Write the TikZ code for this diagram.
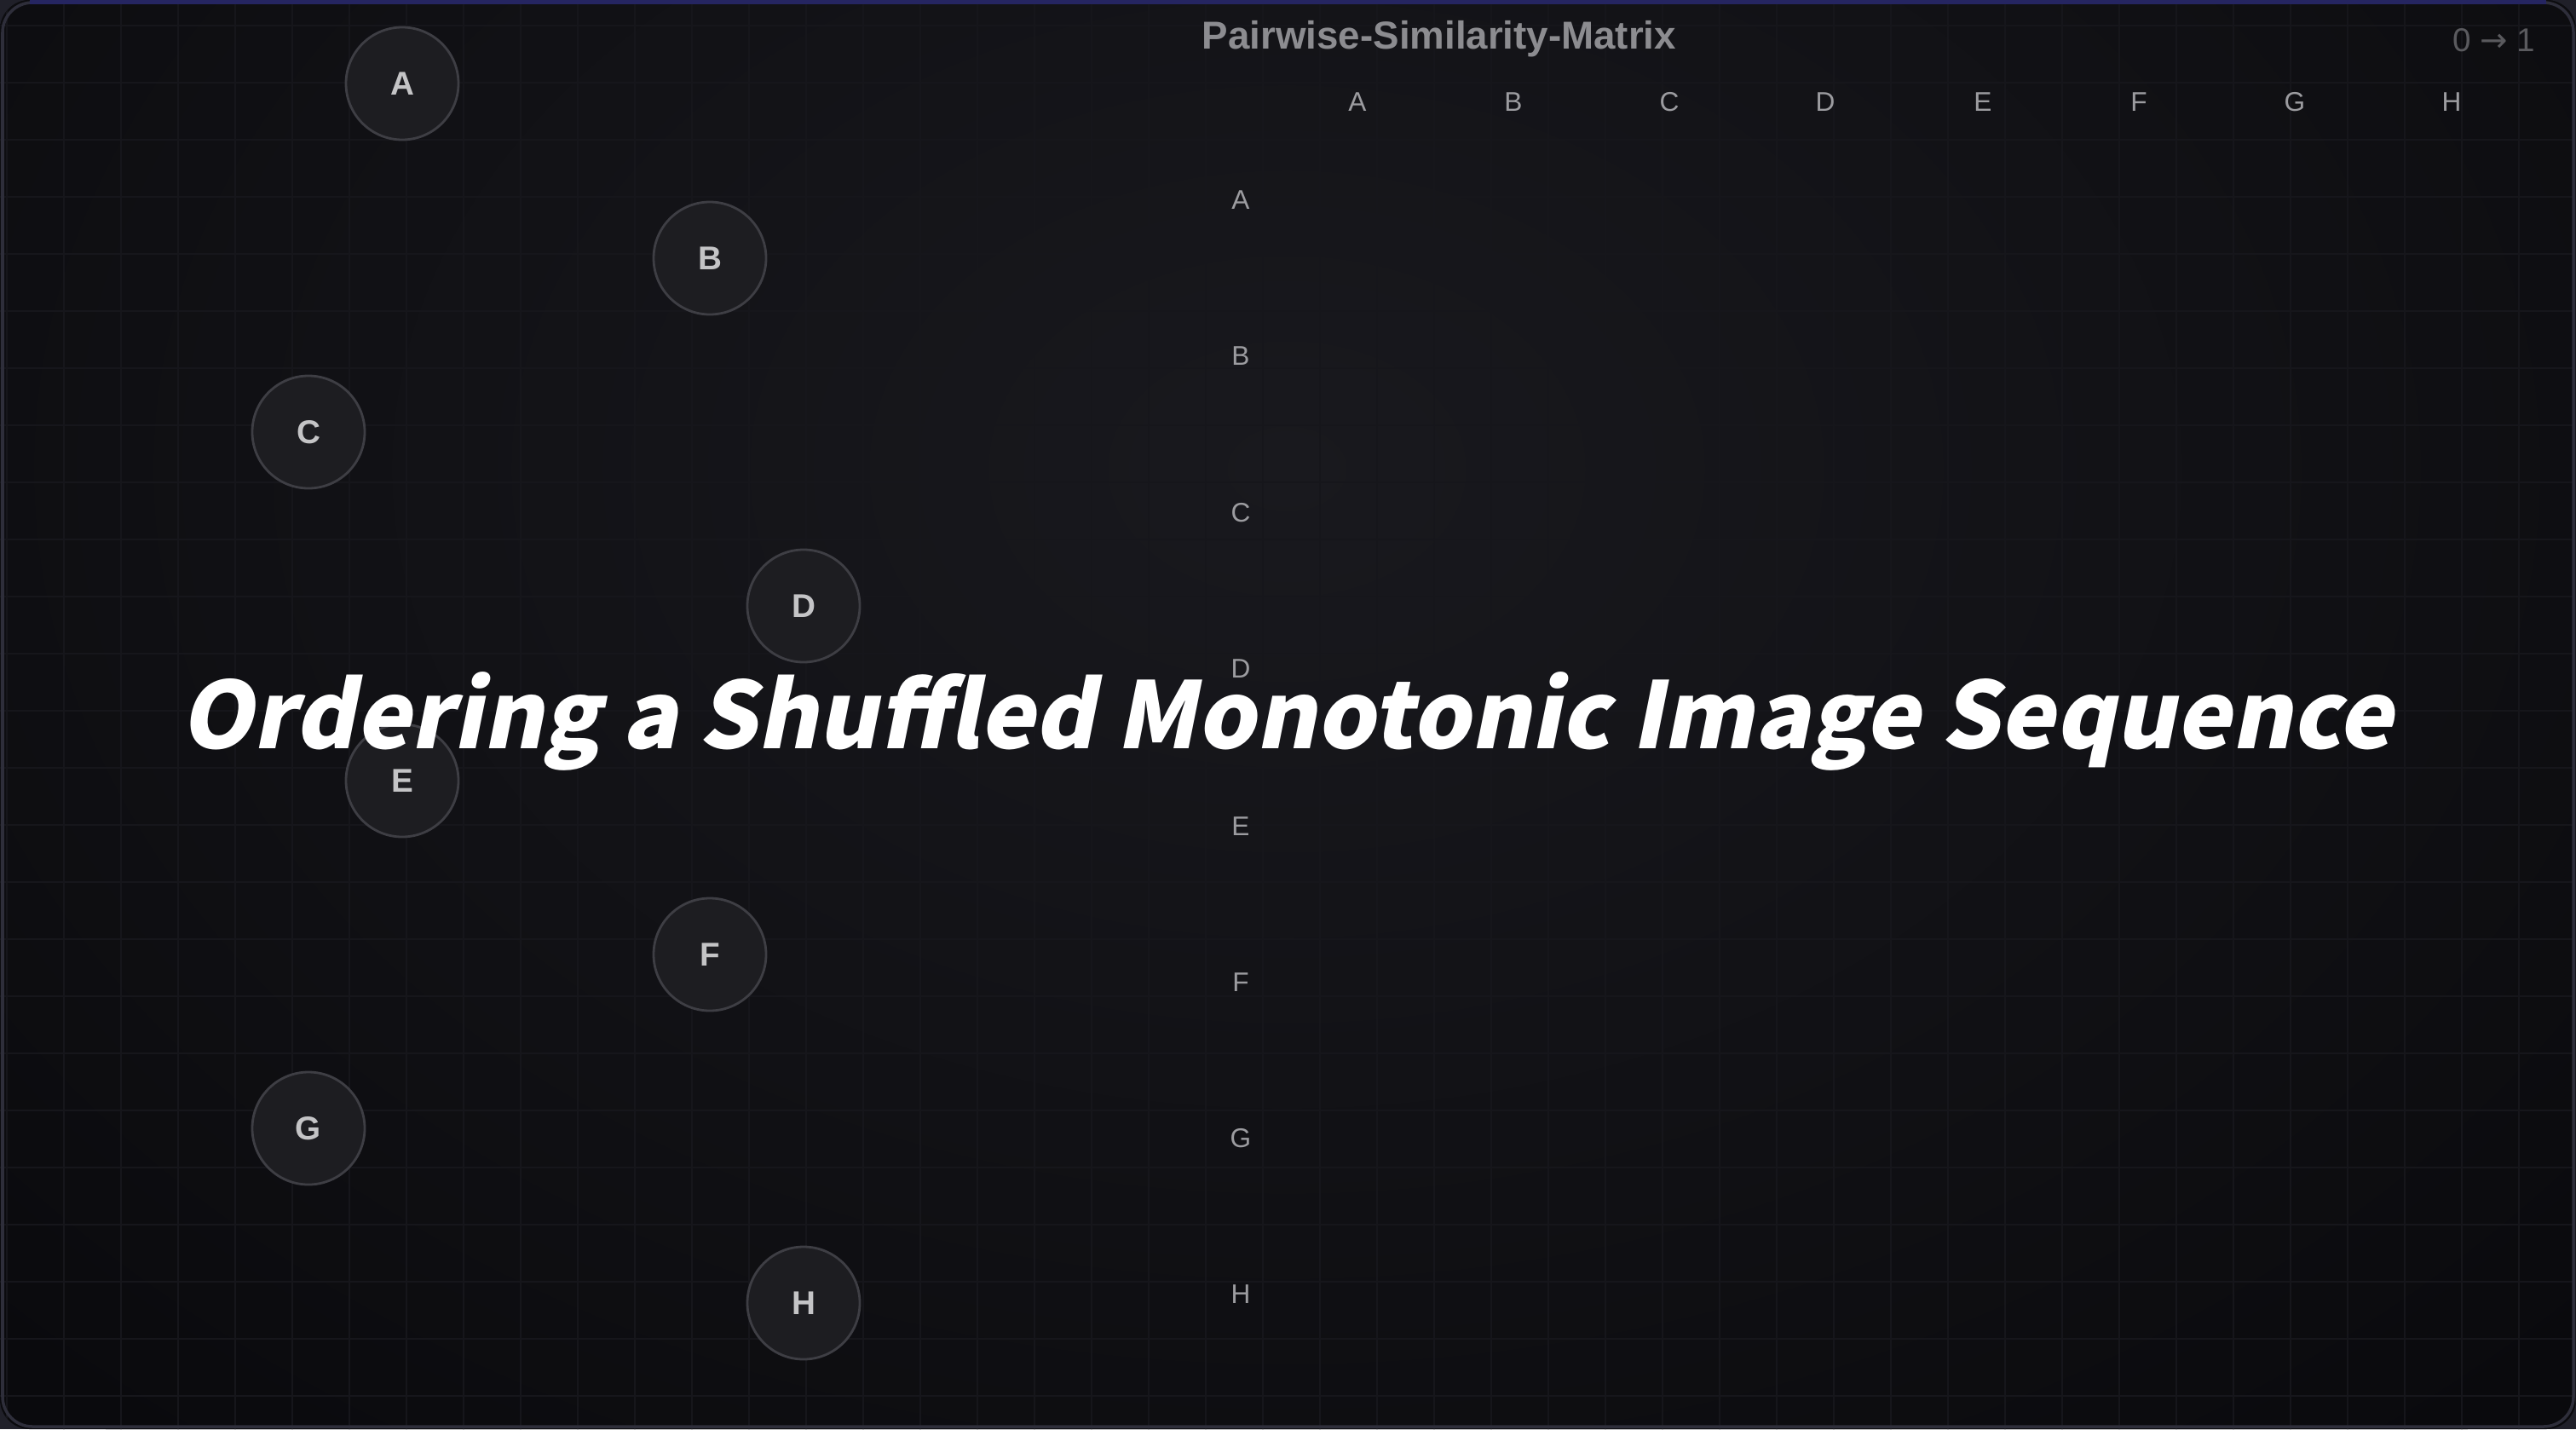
\documentclass[tikz,border=0pt]{standalone}
\usepackage{fontspec}
\setmainfont{Liberation Sans}
\newfontfamily\titlefont[FakeSlant=0.2]{Noto Sans CJK SC}
\newfontfamily\symfont{DejaVu Sans}
\usepackage{tikz}
\usetikzlibrary{positioning}
\definecolor{simbg}{HTML}{0A0A0D}
\definecolor{simglow}{HTML}{19191E}
\definecolor{simedge}{HTML}{2E2E3A}
\definecolor{simgrid}{HTML}{16161B}
\definecolor{simdot}{HTML}{1D1D21}
\definecolor{simring}{HTML}{3E3E44}
\definecolor{simlabel}{HTML}{C4C4C6}
\definecolor{simaxis}{HTML}{9C9CA0}
\definecolor{simhead}{HTML}{8C8C90}
\definecolor{simscale}{HTML}{5A5A5E}

\begin{document}
\begin{tikzpicture}[
  item/.style={circle, draw=simring, line width=0.8pt, fill=simdot,
    minimum size=1.32cm, inner sep=0pt, text=simlabel,
    font=\fontsize{11}{13}\selectfont\bfseries},
  axislabel/.style={text=simaxis, inner sep=0pt, font=\fontsize{9}{11}\selectfont},
  heading/.style={text=simhead, inner sep=0pt, font=\fontsize{13}{15}\selectfont\bfseries}
]
  \useasboundingbox (0,0) rectangle (30.23,-16.77);

  % --- Window background ---
  \fill[simedge!70!black] (0,0) rectangle (30.23,-16.77);
  \fill[simbg, rounded corners=0.35cm] (0,0) rectangle (30.23,-16.77);
  \begin{scope}
    \clip[rounded corners=0.35cm] (0,0) rectangle (30.23,-16.77);
    \shade[inner color=simglow, outer color=simbg] (15.1,-5.5) ellipse (21 and 15);
    \draw[simgrid, line width=0.35pt, shift={(0.08,-0.3)}] (-1,1) grid[step=0.67] (31,-17.5);
  \end{scope}
  \draw[simedge, line width=1pt, rounded corners=0.35cm] (0.03,-0.03) rectangle (30.2,-16.74);
  \draw[simedge!80!blue, line width=1.5pt] (0.35,-0.02) -- (29.88,-0.02);

  % --- Shuffled images (left) ---
  \node[item] (imgA) at (4.72,-0.98)  {A};
  \node[item] (imgB) at (8.33,-3.03)  {B};
  \node[item] (imgC) at (3.62,-5.07)  {C};
  \node[item] (imgD) at (9.43,-7.11)  {D};
  \node[item] (imgE) at (4.72,-9.16)  {E};
  \node[item] (imgF) at (8.33,-11.20) {F};
  \node[item] (imgG) at (3.62,-13.24) {G};
  \node[item] (imgH) at (9.43,-15.29) {H};

  % --- Matrix header ---
  \node[heading] (mtitle) at (16.89,-0.46) {Pairwise-Similarity-Matrix};
  \node[text=simscale, inner sep=0pt, font=\fontsize{11}{13}\selectfont]
    (scale) at (29.27,-0.47) {0 {\symfont →} 1};

  % --- Column labels ---
  \node[axislabel] (colA) at (15.93,-1.20) {A};
  \node[axislabel] (colB) at (17.76,-1.20) {B};
  \node[axislabel] (colC) at (19.59,-1.20) {C};
  \node[axislabel] (colD) at (21.42,-1.20) {D};
  \node[axislabel] (colE) at (23.27,-1.20) {E};
  \node[axislabel] (colF) at (25.10,-1.20) {F};
  \node[axislabel] (colG) at (26.93,-1.20) {G};
  \node[axislabel] (colH) at (28.77,-1.20) {H};

  % --- Row labels ---
  \node[axislabel] (rowA) at (14.56,-2.35)  {A};
  \node[axislabel] (rowB) at (14.56,-4.18)  {B};
  \node[axislabel] (rowC) at (14.56,-6.02)  {C};
  \node[axislabel] (rowD) at (14.56,-7.85)  {D};
  \node[axislabel] (rowE) at (14.56,-9.70)  {E};
  \node[axislabel] (rowF) at (14.56,-11.53) {F};
  \node[axislabel] (rowG) at (14.56,-13.36) {G};
  \node[axislabel] (rowH) at (14.56,-15.19) {H};

  % --- Overlay caption ---
  \node[text=white, inner sep=0pt, font=\titlefont\bfseries\fontsize{30.8}{35}\selectfont]
    (caption) at (15.10,-8.46) {Ordering a Shuffled Monotonic Image Sequence};
\end{tikzpicture}
\end{document}
